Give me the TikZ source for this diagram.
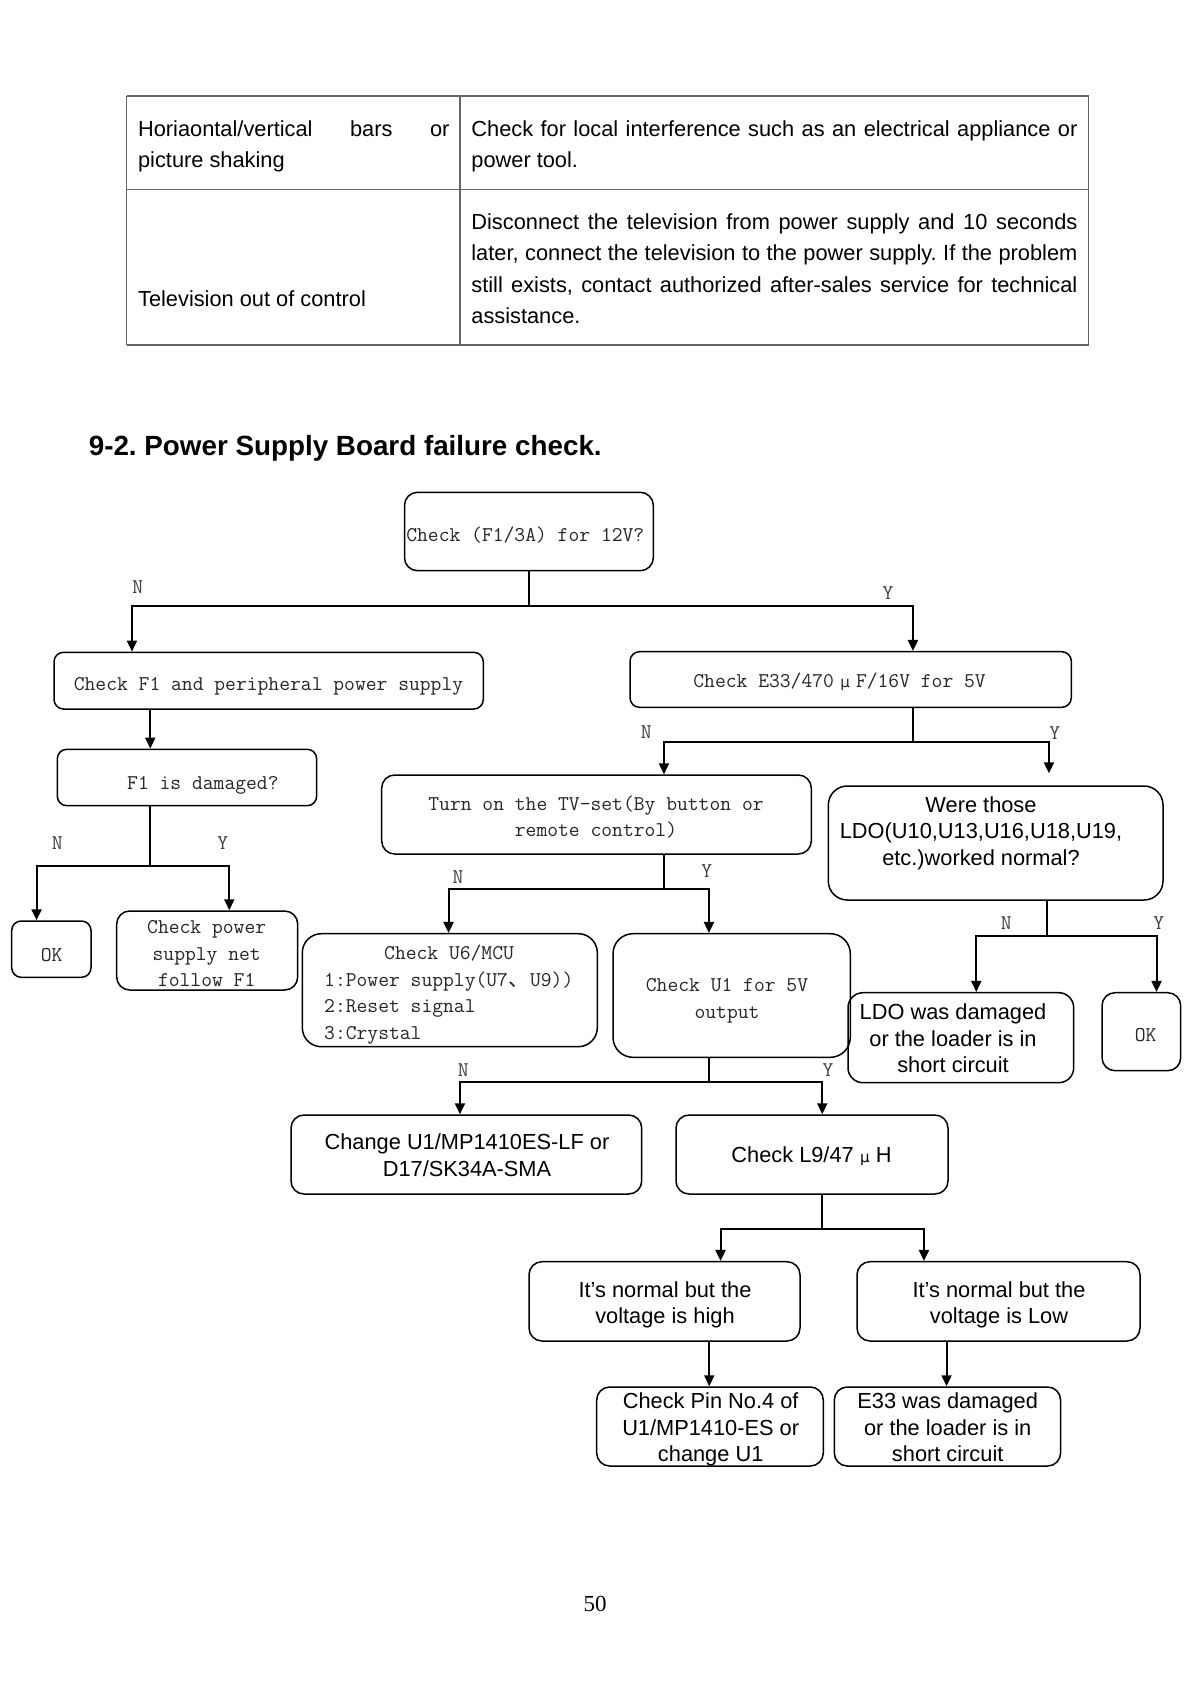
\documentclass[tikz,border=0pt]{standalone}
\usepackage{fontspec}
\setmainfont{Liberation Sans}
\newfontfamily\cjkf{Noto Sans CJK SC}
\newfontfamily\symf{DejaVu Sans}
\newfontfamily\numf{Liberation Serif}
\usetikzlibrary{arrows.meta}
\frenchspacing
\newcommand\ms{\rule[-5pt]{0pt}{22.8pt}}
\newcommand\sst{\rule[-4.8pt]{0pt}{25.2pt}}
\newcommand\tst{\rule{0pt}{22pt}}
\newcommand\mumono{\makebox[22.06pt]{\symf\fontsize{15}{15}\selectfont µ}}
\newcommand\musans{\makebox[22pt]{\symf\fontsize{15}{15}\selectfont µ}}
\newcommand\dunhao{\makebox[22.06pt][l]{\cjkf 、}}
\begin{document}
\begin{tikzpicture}[x=1pt,y=-1pt,
  box/.style={draw=black, line width=1.5pt, rounded corners=#1, inner sep=0pt},
  box/.default=13pt,
  mono/.style={font=\ttfamily\fontsize{21}{26.5}\selectfont, inner sep=0pt, align=center, text=black!85},
  monol/.style={font=\ttfamily\fontsize{21}{26.5}\selectfont, inner sep=0pt, align=left, text=black!85},
  sans/.style={font=\fontsize{21.8}{26.5}\selectfont, inner sep=0pt, align=center},
  yn/.style={font=\ttfamily\fontsize{21}{21}\selectfont, inner sep=0pt, text=black!75},
  arr/.style={line width=2pt, -{Triangle[length=11pt,width=10pt]}},
  thick line/.style={draw=black!60, line width=2pt},
  thin line/.style={draw=black!60, line width=1.2pt},
  ttext/.style={font=\fontsize{21.8}{31.2}\selectfont, inner sep=0pt, align=justify},
]
\fill[white] (0,0) rectangle (1188,1682);
\useasboundingbox (0,0) rectangle (1188,1682);

% ---------- table ----------
\draw[thick line] (126.5,95.7) -- (1088.7,95.7);
\draw[thin line] (126.5,189.3) -- (1088.7,189.3);
\draw[thick line] (126.5,345) -- (1088.7,345);
\draw[thin line] (126.5,95.7) -- (126.5,345);
\draw[thin line] (459.9,95.7) -- (459.9,345);
\draw[thin line] (1088.7,95.7) -- (1088.7,345);

\node[ttext, text width=311.4pt, anchor=north west] (r1l) at (137.9,114.1)
  {\noindent\tst Horiaontal/vertical bars or\linebreak picture shaking};
\node[ttext, text width=606pt, anchor=north west] (r1r) at (471.2,114.1)
  {\noindent\tst Check for local interference such as an electrical appliance or\linebreak power tool.};
\node[font=\fontsize{21.8}{31.2}\selectfont, inner sep=0pt, anchor=base west] (r2l) at (137.9,306.8)
  {Television out of control};
\node[ttext, text width=606pt, anchor=north west] (r2r) at (471.2,207.5)
  {\noindent\tst Disconnect the television from power supply and 10 seconds\linebreak later, connect the television to the power supply. If the problem\linebreak still exists, contact authorized after-sales service for technical\linebreak assistance.};

% ---------- heading ----------
\node[font=\bfseries\fontsize{27.8}{32}\selectfont, anchor=base west, inner sep=0pt] (head) at (88.6,455)
  {9-2. Power Supply Board failure check.};

% ---------- boxes ----------
\node[box=13pt,  minimum width=248.8pt, minimum height=78.4pt] (top)  at (528.9,531.5) {};
\node[box=9.5pt, minimum width=429.3pt, minimum height=56.7pt] (f1p)  at (268.65,680.65) {};
\node[box=9.5pt, minimum width=441.3pt, minimum height=55.6pt] (e33)  at (850.65,679.5) {};
\node[box=9.5pt, minimum width=259.4pt, minimum height=56.4pt] (f1d)  at (187,777.5) {};
\node[box=9.5pt, minimum width=79.3pt,  minimum height=56.3pt] (okl)  at (51.35,949.15) {};
\node[box=13pt,  minimum width=181pt,   minimum height=79pt]   (cpn)  at (207.2,950.5) {};
\node[box=13pt,  minimum width=429.6pt, minimum height=79pt]   (turn) at (596.5,814.5) {};
\node[box=19pt,  minimum width=334.7pt, minimum height=114pt]  (ldoq) at (995.65,843) {};
\node[box=19pt,  minimum width=295pt,   minimum height=113pt]  (u6)   at (449.8,990.2) {};
\node[box=20pt,  minimum width=237.3pt, minimum height=123.6pt] (u1)  at (731.65,995.5) {};
\node[box=15pt,  minimum width=225.7pt, minimum height=90pt]   (ldod) at (960.85,1037.7) {};
\node[box=13pt,  minimum width=78.7pt,  minimum height=78pt]   (okr)  at (1141.35,1031.7) {};
\node[box=13pt,  minimum width=350.7pt, minimum height=79pt]   (chg)  at (466.35,1154.5) {};
\node[box=13pt,  minimum width=272pt,   minimum height=79pt]   (l9)   at (812,1154.5) {};
\node[box=13pt,  minimum width=271pt,   minimum height=79.3pt] (high) at (664.5,1301.35) {};
\node[box=13pt,  minimum width=283pt,   minimum height=79.3pt] (low)  at (998.5,1301.35) {};
\node[box=13pt,  minimum width=226.6pt, minimum height=79pt]   (pin)  at (710,1426.5) {};
\node[box=13pt,  minimum width=226.3pt, minimum height=79pt]   (e33d) at (947.45,1426.5) {};

% ---------- box texts ----------
\node[mono] (top-t)  at (525.3,535)   {\ms Check (F1/3A) for 12V?};
\node[mono] (f1p-t)  at (268.5,684)   {\ms Check F1 and peripheral power supply};
\node[mono] (e33-t)  at (839.6,681)   {\ms Check E33/470\mumono F/16V for 5V};
\node[mono] (f1d-t)  at (202.9,783.3) {\ms F1 is damaged?};
\node[mono] (okl-t)  at (51.7,955)    {\ms OK};
\node[mono] (cpn-t)  at (206.7,953.8) {\ms Check power\\\ms supply net\\\ms follow F1};
\node[mono] (turn-t) at (596,817.3)   {\ms Turn on the TV-set(By button or\\\ms remote control)};
\node[monol, anchor=west] (u6-t) at (324,993)
  {\ms\hspace*{60pt}Check U6/MCU\\\ms 1:Power supply(U7\dunhao U9))\\\ms 2:Reset signal\\\ms 3:Crystal};
\node[mono] (u1-t)   at (727,998.65)  {\ms Check U1 for 5V\\\ms output};
\node[mono] (okr-t)  at (1145.7,1035) {\ms OK};
\node[sans] (ldoq-t) at (981,830.85)  {\sst Were those\\\sst LDO(U10,U13,U16,U18,U19,\\\sst etc.)worked normal?};
\node[sans] (ldod-t) at (953,1038.3)  {\sst LDO was damaged\\\sst or the loader is in\\\sst short circuit};
\node[sans] (chg-t)  at (467,1155)    {\sst Change U1/MP1410ES-LF or\\\sst D17/SK34A-SMA};
\node[sans] (l9-t)   at (811.5,1155)  {\sst Check L9/47\musans H};
\node[sans] (high-t) at (665,1302.65) {\sst It’s normal but the\\\sst voltage is high};
\node[sans] (low-t)  at (999,1302.65) {\sst It’s normal but the\\\sst voltage is Low};
\node[sans] (pin-t)  at (710.7,1427.6) {\sst Check Pin No.4 of\\\sst U1/MP1410-ES or\\\sst change U1};
\node[sans] (e33d-t) at (947.7,1427.6) {\sst E33 was damaged\\\sst or the loader is in\\\sst short circuit};

% ---------- connectors ----------
\draw[arr] (top.south) -- ++(0,34.6) -| ([xshift=78.7pt]f1p.north west);
\draw[arr] (top.south) -- ++(0,34.6) -| ([xshift=283.7pt]e33.north west);
\draw[arr] ([xshift=97pt]f1p.south west) -- ([xshift=93.7pt]f1d.north west);
\draw[arr] ([xshift=93.7pt]f1d.south west) -- ++(0,60) -| ([xshift=25.6pt]okl.north west);
\draw[arr] ([xshift=93.7pt]f1d.south west) -- ++(0,60) -| ([xshift=113.3pt]cpn.north west);
\draw[arr] ([xshift=283.7pt]e33.south west) -- ++(0,34.2) -| ([xshift=283pt]turn.north west);
\draw[arr] ([xshift=283.7pt]e33.south west) -- ++(0,34.2) -| ([xshift=221.4pt,yshift=12pt]ldoq.north west);
\draw[arr] ([xshift=283pt]turn.south west) -- ++(0,34.3) -| ([xshift=147pt]u6.north west);
\draw[arr] ([xshift=283pt]turn.south west) -- ++(0,34.3) -| ([xshift=96.7pt]u1.north west);
\draw[arr] ([xshift=219.7pt]ldoq.south west) -- ++(0,35.7) -| ([xshift=129pt]ldod.north west);
\draw[arr] ([xshift=219.7pt]ldoq.south west) -- ++(0,35.7) -| ([xshift=55.3pt]okr.north west);
\draw[arr] ([xshift=96.7pt]u1.south west) -- ++(0,23.7) -| ([xshift=169.7pt]chg.north west);
\draw[arr] ([xshift=96.7pt]u1.south west) -- ++(0,23.7) -| ([xshift=147pt]l9.north west);
\draw[arr] ([xshift=147pt]l9.south west) -- ++(0,34.3) -| ([xshift=192.3pt]high.north west);
\draw[arr] ([xshift=147pt]l9.south west) -- ++(0,34.3) -| ([xshift=67.7pt]low.north west);
\draw[arr] ([xshift=181pt]high.south west) -- ([xshift=113.3pt]pin.north west);
\draw[arr] ([xshift=90.3pt]low.south west) -- ([xshift=113pt]e33d.north west);

% ---------- N / Y labels ----------
\node[yn] (n1) at (137.7,586.7) {N};
\node[yn] (y1) at (888,593.3) {Y};
\node[yn] (n2) at (57.3,843.3) {N};
\node[yn] (y2) at (222.7,843.3) {Y};
\node[yn] (n3) at (646.3,731.7) {N};
\node[yn] (y3) at (1054.7,733.3) {Y};
\node[yn] (n4) at (458,876.7) {N};
\node[yn] (y4) at (706.7,870.7) {Y};
\node[yn] (n5) at (1006.3,922.7) {N};
\node[yn] (y5) at (1158.7,922.7) {Y};
\node[yn] (n6) at (463.3,1070) {N};
\node[yn] (y6) at (828,1070) {Y};

% ---------- page number ----------
\node[font=\numf\fontsize{23}{23}\selectfont, anchor=base, inner sep=0pt] (pg) at (595,1611.5) {50};
\end{tikzpicture}
\end{document}
